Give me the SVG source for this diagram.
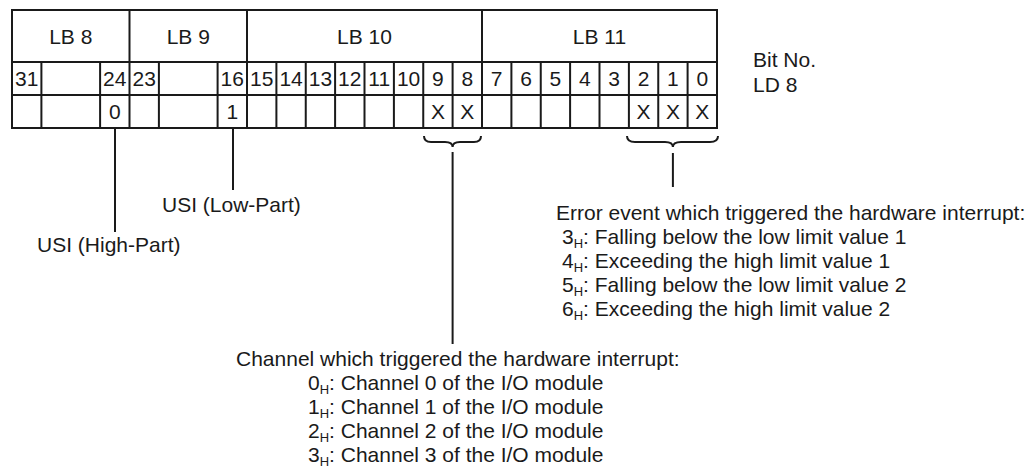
<svg xmlns="http://www.w3.org/2000/svg" width="1034" height="476" viewBox="0 0 1034 476">
<style>
.t{font-family:"Liberation Sans",Arial,sans-serif;font-size:21px;fill:#1a1a1a}
.c{text-anchor:middle}
.sub{font-size:13px}
.ln{stroke:#1a1a1a;stroke-width:2;fill:none}
</style>
<rect width="1034" height="476" fill="#fff"/>
<g id="table">
<g class="ln">
<rect x="12" y="10" width="705" height="118"/>
<path d="M12 62H717M12 95H717"/>
<path d="M129.5 10V128M247 10V128M482 10V128"/>
<path d="M41.4 62V128M100.1 62V128M158.9 62V128M217.6 62V128"/>
<path d="M276.4 62V128M305.75 62V128M335.1 62V128M364.5 62V128M393.9 62V128M423.25 62V128M452.6 62V128"/>
<path d="M511.4 62V128M540.75 62V128M570.1 62V128M599.5 62V128M628.9 62V128M658.25 62V128M687.6 62V128"/>
</g>
<g class="t c">
<text x="70.75" y="43.5">LB 8</text>
<text x="188.25" y="43.5">LB 9</text>
<text x="364.5" y="43.5">LB 10</text>
<text x="599.5" y="43.5">LB 11</text>
<text x="26.7" y="86">31</text>
<text x="114.8" y="86">24</text>
<text x="144.2" y="86">23</text>
<text x="232.3" y="86">16</text>
<text x="261.7" y="86">15</text>
<text x="291.1" y="86">14</text>
<text x="320.4" y="86">13</text>
<text x="349.8" y="86">12</text>
<text x="379.2" y="86">11</text>
<text x="408.6" y="86">10</text>
<text x="437.9" y="86">9</text>
<text x="467.3" y="86">8</text>
<text x="496.7" y="86">7</text>
<text x="526.1" y="86">6</text>
<text x="555.4" y="86">5</text>
<text x="584.8" y="86">4</text>
<text x="614.2" y="86">3</text>
<text x="643.6" y="86">2</text>
<text x="672.9" y="86">1</text>
<text x="702.3" y="86">0</text>
<text x="114.8" y="119">0</text>
<text x="232.3" y="119">1</text>
<text x="437.9" y="119">X</text>
<text x="467.3" y="119">X</text>
<text x="643.6" y="119">X</text>
<text x="672.9" y="119">X</text>
<text x="702.3" y="119">X</text>
</g>
</g>
<g id="bitno" class="t">
<text x="753" y="67">Bit No.</text>
<text x="753" y="92">LD 8</text>
</g>
<g id="connectors" class="ln">
<path d="M115 128V232"/>
<path d="M233 128V190"/>
<path d="M424 136Q424 142 431 142L445 142Q452.6 142 452.6 147Q452.6 142 460 142L474 142Q481 142 481 136"/>
<path d="M452.6 152V344"/>
<path d="M627 136Q627 142 635 142L665 142Q672.9 142 672.9 147Q672.9 142 681 142L710 142Q718 142 718 136"/>
<path d="M672.9 153V187"/>
</g>
<g id="usi-low" class="t"><text x="162" y="212">USI (Low-Part)</text></g>
<g id="usi-high" class="t"><text x="37" y="252">USI (High-Part)</text></g>
<g id="error" class="t">
<text x="556" y="220">Error event which triggered the hardware interrupt:</text>
<text x="562" y="244">3<tspan class="sub" dy="4">H</tspan><tspan dy="-4">: Falling below the low limit value 1</tspan></text>
<text x="562" y="268">4<tspan class="sub" dy="4">H</tspan><tspan dy="-4">: Exceeding the high limit value 1</tspan></text>
<text x="562" y="292">5<tspan class="sub" dy="4">H</tspan><tspan dy="-4">: Falling below the low limit value 2</tspan></text>
<text x="562" y="316">6<tspan class="sub" dy="4">H</tspan><tspan dy="-4">: Exceeding the high limit value 2</tspan></text>
</g>
<g id="channel" class="t">
<text x="236" y="366">Channel which triggered the hardware interrupt:</text>
<text x="308" y="390">0<tspan class="sub" dy="4">H</tspan><tspan dy="-4">: Channel 0 of the I/O module</tspan></text>
<text x="308" y="414">1<tspan class="sub" dy="4">H</tspan><tspan dy="-4">: Channel 1 of the I/O module</tspan></text>
<text x="308" y="438">2<tspan class="sub" dy="4">H</tspan><tspan dy="-4">: Channel 2 of the I/O module</tspan></text>
<text x="308" y="462">3<tspan class="sub" dy="4">H</tspan><tspan dy="-4">: Channel 3 of the I/O module</tspan></text>
</g>
</svg>
